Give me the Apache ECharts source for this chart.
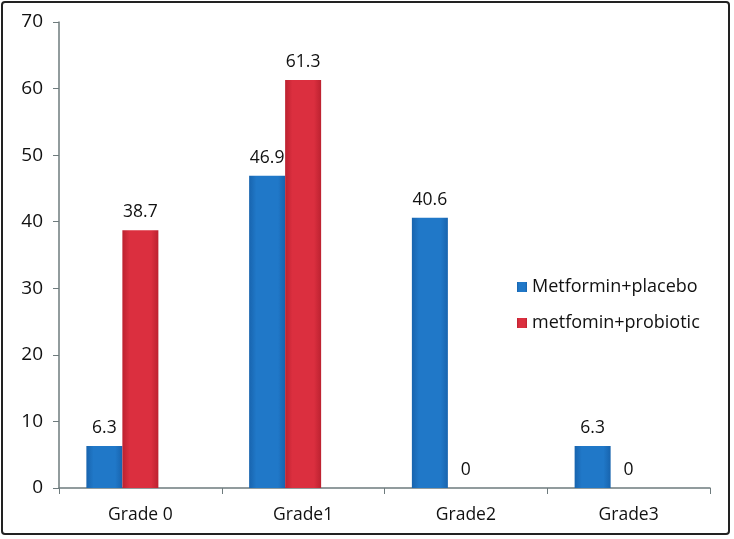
<!DOCTYPE html>
<html>
<head>
<meta charset="utf-8">
<script src="https://cdn.jsdelivr.net/npm/echarts@6/dist/echarts.min.js"></script>
<style>
html,body{margin:0;padding:0;background:#fff;}
#frame{position:absolute;left:1px;top:1px;width:729px;height:534px;border:2px solid #222;border-radius:4px;box-sizing:border-box;}
#chart{position:absolute;left:0;top:0;width:734px;height:539px;}
</style>
</head>
<body>
<div id="frame"></div>
<div id="chart"></div>
<script>
const categories = ['Grade 0', 'Grade1', 'Grade2', 'Grade3'];
const placebo = [6.3, 46.9, 40.6, 6.3];
const probiotic = [38.7, 61.3, 0, 0];
const seriesNames = ['Metformin+placebo', 'metfomin+probiotic'];
const yTicks = [0, 10, 20, 30, 40, 50, 60, 70];

const FONT = '"Open Sans", "Liberation Sans", sans-serif';
function grad(edge, mid) {
  return new echarts.graphic.LinearGradient(0, 0, 1, 0, [
    {offset: 0, color: edge}, {offset: 0.2, color: mid}, {offset: 0.8, color: mid}, {offset: 1, color: edge}
  ]);
}
const chart = echarts.init(document.getElementById('chart'));
const labelCfg = {show: true, position: 'top', distance: 9, color: '#111', fontSize: 17.5, fontFamily: FONT};
chart.setOption({
  animation: false,
  backgroundColor: 'transparent',
  grid: {left: 59, right: 24, top: 22, bottom: 51},
  legend: {
    data: seriesNames,
    orient: 'vertical',
    left: 512, top: 273,
    itemWidth: 10, itemHeight: 10, itemGap: 18,
    icon: 'rect',
    textStyle: {fontSize: 18, fontFamily: FONT, color: '#111'}
  },
  xAxis: {
    type: 'category',
    data: categories,
    axisLine: {lineStyle: {color: '#6e7b7d', width: 1.5}},
    axisTick: {show: true, length: 6, lineStyle: {color: '#6e7b7d'}},
    axisLabel: {fontSize: 17.5, fontFamily: FONT, color: '#111', margin: 18}
  },
  yAxis: {
    type: 'value',
    min: 0, max: 70, interval: 10,
    splitLine: {show: false},
    axisLine: {show: true, lineStyle: {color: '#6e7b7d', width: 1.5}},
    axisTick: {show: true, length: 6, lineStyle: {color: '#6e7b7d'}},
    axisLabel: {fontSize: 19, fontFamily: FONT, color: '#111', margin: 16,
      formatter: v => yTicks.includes(v) ? String(v) : ''}
  },
  series: [
    {name: seriesNames[0], type: 'bar', data: placebo, barWidth: 36, barGap: '0%',
      itemStyle: {color: grad('#1864ae', '#2078c8')}, label: labelCfg},
    {name: seriesNames[1], type: 'bar', data: probiotic, barWidth: 36, barGap: '0%',
      itemStyle: {color: grad('#bc2230', '#db2f3f')}, label: labelCfg},
    {name: 'spacer', type: 'bar', data: categories.map(() => null), barWidth: 36, barGap: '0%'}
  ]
});
</script>
</body>
</html>
